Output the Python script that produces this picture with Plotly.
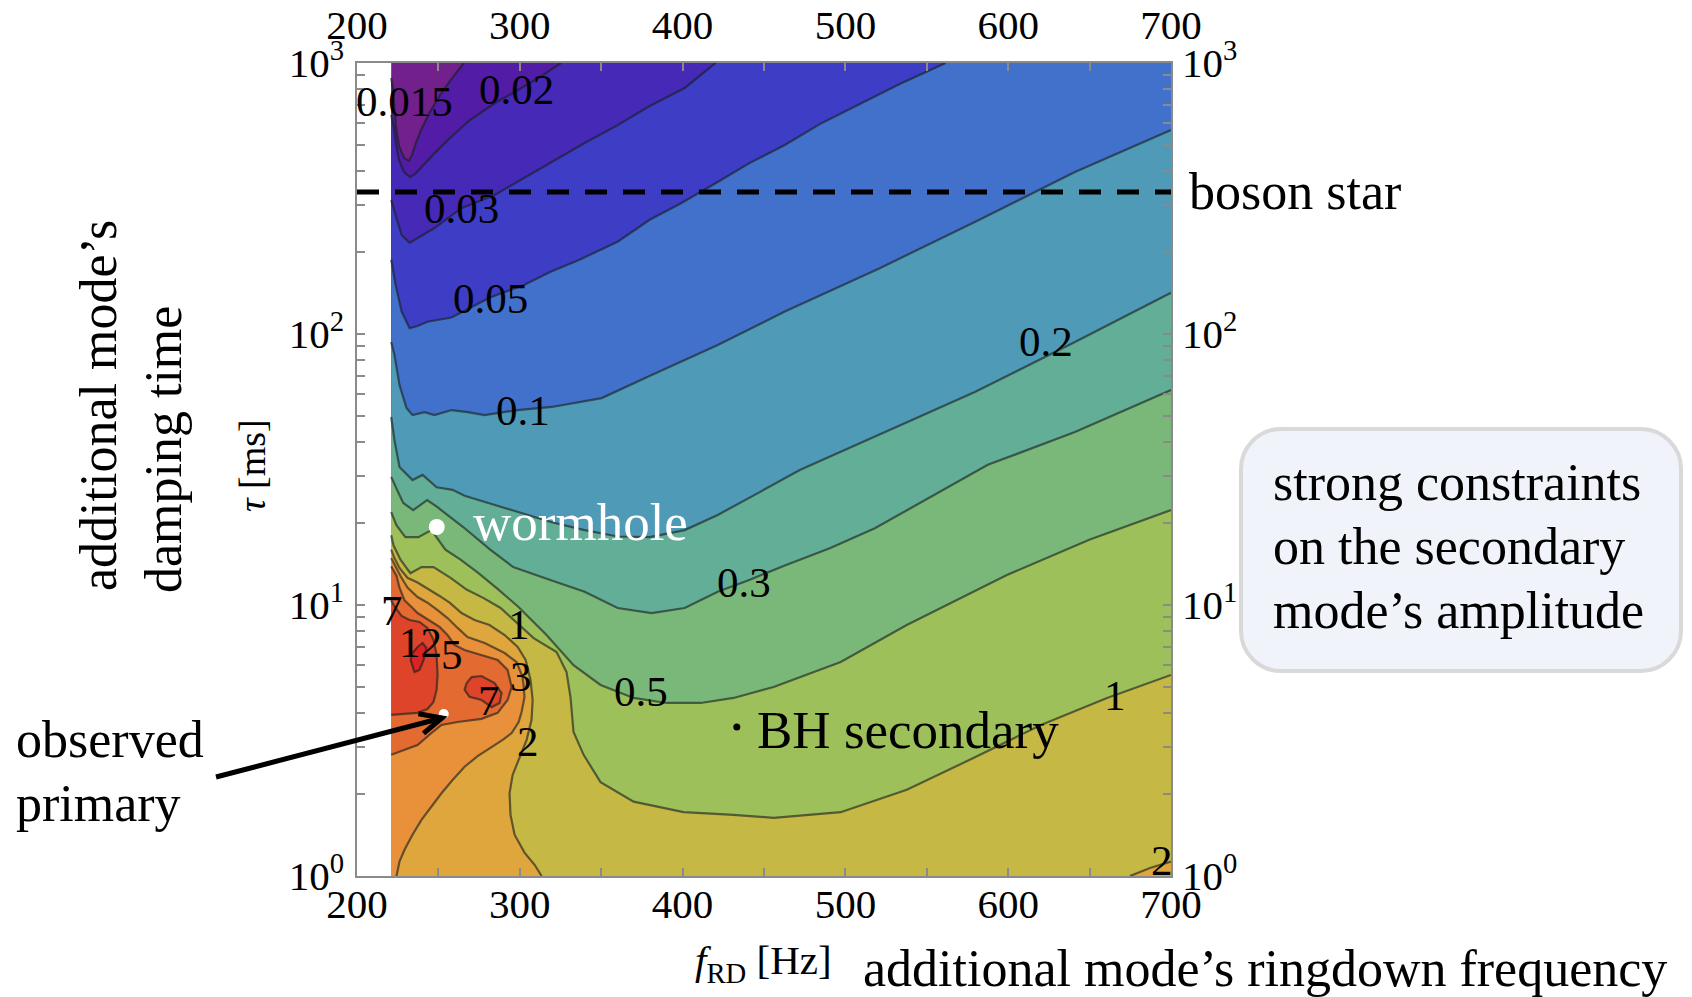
import numpy as np
import plotly.graph_objects as go

# ---------------- scan domain ----------------
F_LO, F_HI = 221.0, 700.0      # ringdown frequency covered by the scan [Hz]
T_LO, T_HI = 1.0, 1000.0       # damping time covered by the scan [ms]

# contour levels of the secondary-mode amplitude bound and band colours
LEVELS = [0.015, 0.02, 0.03, 0.05, 0.1, 0.2, 0.3, 0.5, 1, 2, 3, 5, 7, 12]
BAND_COLORS = ["#71208c", "#531ca6", "#4629b6", "#3d3dc6", "#4271cc",
               "#4f9ab6", "#63ae96", "#7ab879", "#9ec05b", "#c5b845",
               "#dea63c", "#e8903a", "#e36a30", "#de4429", "#dc2222"]

# ---------------- iso-amplitude curves (f [Hz], tau [ms]) ----------------
A0015_F = [265.7, 258.4, 251.0, 244.8, 239.9, 236.2, 233.8, 231.9, 228.9, 225.8, 224.0, 222.7, 222.1, 221]
A0015_T = [1000, 880, 762, 659, 576, 507, 458, 435, 446, 494, 576, 700, 809, 880]

A002_F = [325.3, 312.4, 298.9, 284.8, 269.4, 257.1, 247.9, 240.5, 235.6, 232.6, 228.9, 225.8, 224.0, 222.7, 221]
A002_T = [1000, 888, 795, 712, 616, 529, 466, 417, 389, 380, 396, 439, 498, 576, 643]

A003_F = [420.3, 401.3, 379.8, 360.1, 339.8, 319.6, 299.9, 284.6, 264.3, 247.6, 237.2, 232.3, 227.4, 223.7, 221]
A003_T = [1000, 809, 694, 590, 507, 431, 370, 326, 292, 246, 226, 217, 232, 275, 312]

A005_F = [561.6, 533.4, 508.9, 484.3, 462.8, 441.3, 421.6, 398.2, 379.8, 360.1, 336.7,
          318.3, 302.9, 281.4, 258.1, 243.3, 237.2, 232.3, 227.4, 223.7, 221]
A005_T = [1000, 837, 706, 595, 498, 428, 364, 302, 264, 219, 188,
          169, 152, 136, 115, 111, 107, 105, 121, 152, 188]

A01_F = [700, 641, 579.5, 521.1, 462.8, 421.6, 381, 350.3, 319.6, 298.7, 278.4,
         268, 258.1, 247.6, 241.5, 234.1, 230.4, 226.1, 223, 221]
A01_T = [566, 396, 259, 175, 121, 91.1, 70.6, 58.0, 53.8, 52.4, 50.2,
         51.5, 52.4, 50.2, 51.5, 50.2, 53.3, 64.8, 83.6, 93.4]

A02_F = [700, 641, 579.5, 518.1, 472, 447.4, 421.6, 401.3, 379.8, 360.1, 339.8,
         319.6, 298.7, 278.4, 266.1, 258.7, 248.9, 240.3, 234.1, 226.1, 223, 221]
A02_T = [142, 93.4, 61.1, 41.7, 31.5, 26.1, 21.5, 18.9, 17.8, 17.9, 18.9,
         20.2, 22.0, 24.0, 25.3, 26.6, 27.2, 30.2, 28.9, 32.3, 40.6, 49.4]

A03_F = [700, 641, 587.5, 551.9, 518.1, 490.4, 462.8, 441.3, 421.6, 401.3, 381, 360.1,
         339.8, 318.3, 295.9, 281.8, 265.2, 249.2, 243.1, 234.5, 228.4, 224.1, 221]
A03_T = [62.1, 43.5, 32.9, 25.0, 19.2, 16.2, 14.0, 12.4, 11.2, 9.75, 9.34, 9.75,
         11.2, 12.4, 13.8, 16.0, 19.4, 23.0, 24.4, 22.4, 23.8, 27.0, 29.7]

A05_F = [700, 649.8, 599.2, 537.7, 497.1, 455.9, 431.3, 411.1, 390.2, 369.9, 349.6, 333.0,
         316.4, 299.2, 286.9, 274.6, 263.6, 254.3, 245.7, 237.7, 229.7, 224.2, 221]
A05_T = [22.4, 17.4, 12.9, 8.44, 6.16, 4.98, 4.54, 4.35, 4.35, 4.54, 5.07, 6.00,
         7.75, 9.83, 11.4, 13.1, 14.7, 16.0, 18.9, 17.8, 17.8, 19.7, 22.0]

A1_F = [700, 660.7, 620.1, 578.9, 537.7, 497.1, 455.9, 431.3, 400.6, 369.9, 349.6, 339.2,
        333.0, 331.2, 328.7, 322.6, 308.5, 298.7, 288.2, 277.8, 267.3, 257.5, 247.0,
        239.6, 232.8, 226.7, 222.4, 221]
A1_T = [5.52, 4.54, 3.61, 2.73, 2.08, 1.72, 1.64, 1.68, 1.72, 1.88, 2.22, 2.80,
        3.40, 4.54, 5.66, 6.71, 7.55, 8.51, 9.75, 10.6, 11.4, 12.6, 13.8,
        13.8, 13.1, 14.7, 16.6, 18.1]

A2_F = [313.4, 309.1, 302.9, 296.8, 294.3, 293.7, 295.6, 299.9, 304.2, 307.2, 307.9, 306.6,
        303.6, 298.7, 290.7, 281.4, 272.2, 264.2, 256.9, 250.7, 244.6, 237.2, 231.0,
        226.1, 223.0, 221]
A2_T = [1.00, 1.10, 1.22, 1.42, 1.68, 2.02, 2.36, 2.75, 3.18, 3.76, 4.46, 5.29,
        6.27, 7.00, 7.75, 8.44, 8.80, 9.34, 10.2, 10.8, 11.4, 12.1, 12.6,
        13.7, 14.9, 16.0]

A2R_F = [700, 687.1, 674.8]
A2R_T = [1.13, 1.07, 1.00]

A3_F = [224.3, 226.1, 229.2, 234.1, 239.6, 245.8, 251.9, 258.7, 266.1, 274.1, 282.7, 289.5,
        295.0, 299.3, 301.1, 302.9, 302.3, 301.7, 298.0, 290.7, 278.4, 267.9, 261.8, 255.6,
        249.5, 243.3, 237.2, 231.0, 226.7, 223.7, 221]
A3_T = [1.00, 1.13, 1.25, 1.42, 1.61, 1.81, 2.02, 2.26, 2.53, 2.77, 2.99, 3.18,
        3.37, 3.70, 4.03, 4.58, 5.07, 5.42, 6.16, 6.65, 7.24, 7.62, 8.23, 8.95,
        9.58, 10.2, 10.7, 11.6, 12.8, 13.9, 14.9]

A5_F = [221, 229.2, 237.2, 245.8, 251.9, 261.8, 276.5, 286.4, 292.5, 295.0, 292.5, 286.4,
        276.5, 266.1, 259.9, 255.6, 250.7, 245.8, 241.5, 237.2, 233.5, 229.2, 226.1, 224.3, 221]
A5_T = [2.80, 2.92, 3.04, 3.37, 3.61, 3.70, 3.80, 4.00, 4.46, 4.98, 5.76, 6.27,
        6.54, 6.82, 7.12, 7.75, 8.30, 8.66, 9.03, 9.34, 9.83, 10.4, 11.6, 12.8, 13.9]

A7_F = [221, 229.2, 237.2, 243.3, 247.0, 248.9, 249.5, 248.9, 247.0, 243.3, 238.4, 232.3,
        227.4, 223.7, 221]
A7_T = [3.93, 3.96, 4.00, 4.13, 4.39, 4.86, 5.52, 6.54, 7.43, 8.23, 8.66, 8.80,
        9.11, 9.75, 10.4]

A7B_F = [267.3, 270.4, 276.5, 284.5, 288.8, 287.6, 282.7, 276.5, 269.1, 266.1, 267.3]
A7B_T = [5.15, 5.42, 5.47, 5.15, 4.73, 4.35, 4.20, 4.46, 4.58, 4.86, 5.15]

A12_F = [232.9, 235.3, 238.4, 240.9, 242.7, 240.3, 237.2, 234.1, 232.9]
A12_T = [6.27, 5.66, 5.76, 6.27, 6.94, 7.24, 7.00, 6.65, 6.27]

CURVES = [
    (0.015, A0015_F, A0015_T), (0.02, A002_F, A002_T), (0.03, A003_F, A003_T),
    (0.05, A005_F, A005_T), (0.1, A01_F, A01_T), (0.2, A02_F, A02_T),
    (0.3, A03_F, A03_T), (0.5, A05_F, A05_T), (1, A1_F, A1_T),
    (2, A2_F, A2_T), (2, A2R_F, A2R_T), (3, A3_F, A3_T), (5, A5_F, A5_T),
    (7, A7_F, A7_T), (7, A7B_F, A7B_T), (12, A12_F, A12_T),
]

# contour labels: (text, f [Hz], tau [ms])
CONTOUR_LABELS = [
    ("0.015", 229, 724), ("0.02", 298, 798), ("0.03", 264, 291),
    ("0.05", 282, 135), ("0.1", 302, 52.0), ("0.2", 623, 93.7),
    ("0.3", 438, 12.1), ("0.5", 374.5, 4.79), ("1", 299.5, 8.44),
    ("1", 665.6, 4.63), ("2", 305, 3.13), ("2", 694.3, 1.136),
    ("3", 300.7, 5.44), ("5", 258.2, 6.54), ("7", 221.7, 9.53),
    ("12", 238.7, 7.26), ("7", 281.1, 4.44),
]

# special points
BOSON_STAR_TAU = 334
WORMHOLE = (249, 19.4)
PRIMARY = (253.3, 3.96)
BH_SECONDARY = (433.3, 3.55)

# axis ticks
X_MAJOR = [200, 300, 400, 500, 600, 700]
X_MINOR = [250, 350, 450, 550, 650]
Y_MAJOR = [1, 10, 100, 1000]
Y_MINOR = [m * 10 ** k for k in range(3) for m in range(2, 10)]

# ---------------- helpers ----------------
LT_LO, LT_HI = np.log10(T_LO), np.log10(T_HI)
CORNERS = [(F_LO, T_LO), (F_HI, T_LO), (F_HI, T_HI), (F_LO, T_HI)]


def edge_param(f, t):
    """Position along the scan boundary, counter-clockwise from bottom-left."""
    u = (f - F_LO) / (F_HI - F_LO)
    v = (np.log10(t) - LT_LO) / (LT_HI - LT_LO)
    tol = 1e-3
    if abs(v) < tol:
        return u
    if abs(u - 1) < tol:
        return 1 + v
    if abs(v - 1) < tol:
        return 2 + (1 - u)
    return 3 + (1 - v)


def close_region(fs, ts):
    """Close an open curve along the boundary (high side kept on the left)."""
    s_end = edge_param(fs[-1], ts[-1])
    s_start = edge_param(fs[0], ts[0])
    if s_start <= s_end:
        s_start += 4
    xs, ys = list(fs), list(ts)
    k = int(np.floor(s_end)) + 1
    while k < s_start:
        c = CORNERS[k % 4]
        xs.append(c[0])
        ys.append(c[1])
        k += 1
    xs.append(fs[0])
    ys.append(ts[0])
    return xs, ys


# figure geometry (pixels)
W, H = 1692, 997
ML, MR, MT, MB = 357, 521, 63, 121
PW, PH = W - ML - MR, H - MT - MB


def paper(X, Y):
    return (X - ML) / PW, (H - MB - Y) / PH


SERIF = "Liberation Serif"

fig = go.Figure()

# base band
fig.add_trace(go.Scatter(
    x=[F_LO, F_HI, F_HI, F_LO, F_LO], y=[T_LO, T_LO, T_HI, T_HI, T_LO],
    mode="lines", fill="toself", fillcolor=BAND_COLORS[0], line=dict(width=0),
    hoverinfo="skip", showlegend=False))

# filled super-level regions, lowest level first
for level, fs, ts in sorted(CURVES, key=lambda c: c[0]):
    idx = LEVELS.index(level)
    closed = (fs[0] == fs[-1]) and (ts[0] == ts[-1])
    xs, ys = (fs, ts) if closed else close_region(fs, ts)
    fig.add_trace(go.Scatter(
        x=xs, y=ys, mode="lines", fill="toself", fillcolor=BAND_COLORS[idx + 1],
        line=dict(width=0), hoverinfo="skip", showlegend=False))

# contour lines
for level, fs, ts in CURVES:
    fig.add_trace(go.Scatter(
        x=fs, y=ts, mode="lines", line=dict(color="rgba(25,30,30,0.62)", width=2.2),
        hoverinfo="skip", showlegend=False))

# boson star damping time
fig.add_trace(go.Scatter(
    x=[200, 700], y=[BOSON_STAR_TAU, BOSON_STAR_TAU], mode="lines",
    line=dict(color="black", width=5, dash="22px,16px"),
    hoverinfo="skip", showlegend=False))

# markers
fig.add_trace(go.Scatter(x=[WORMHOLE[0]], y=[WORMHOLE[1]], mode="markers",
                         marker=dict(color="white", size=16, line=dict(width=0)),
                         hoverinfo="skip", showlegend=False))
fig.add_trace(go.Scatter(x=[PRIMARY[0]], y=[PRIMARY[1]], mode="markers",
                         marker=dict(color="white", size=10, line=dict(width=0)),
                         hoverinfo="skip", showlegend=False))
fig.add_trace(go.Scatter(x=[BH_SECONDARY[0]], y=[BH_SECONDARY[1]], mode="markers",
                         marker=dict(color="black", size=7, line=dict(width=0)),
                         hoverinfo="skip", showlegend=False))

# carrier trace for the mirrored axes
fig.add_trace(go.Scatter(x=[300], y=[10], xaxis="x2", yaxis="y2", mode="markers",
                         marker=dict(opacity=0), hoverinfo="skip", showlegend=False))

# ---------------- axes ----------------
tick_font = dict(family=SERIF, size=41, color="black")
xtt = [str(v) for v in X_MAJOR]
ytt = [f"10<sup>{int(round(np.log10(v)))}</sup>" for v in Y_MAJOR]

axis_grey = "#8a8a8a"
minor_x = dict(tickvals=X_MINOR, ticks="inside", ticklen=8, tickwidth=1.5,
               tickcolor=axis_grey, showgrid=False)
minor_y = dict(tickvals=Y_MINOR, ticks="inside", ticklen=8, tickwidth=1.5,
               tickcolor=axis_grey, showgrid=False)
common = dict(showline=True, linecolor=axis_grey, linewidth=1.5, ticks="inside",
              ticklen=8, tickwidth=1.5, tickcolor=axis_grey, showgrid=False,
              zeroline=False, tickfont=tick_font, tickmode="array", automargin=False)

fig.update_layout(
    width=W, height=H, autosize=False,
    margin=dict(l=ML, r=MR, t=MT, b=MB, pad=0),
    paper_bgcolor="white", plot_bgcolor="white",
    hovermode=False, showlegend=False,
    xaxis=dict(range=[200, 700], tickvals=X_MAJOR, ticktext=xtt, side="bottom",
               ticklabelstandoff=-9, minor=minor_x, **common),
    xaxis2=dict(range=[200, 700], tickvals=X_MAJOR, ticktext=xtt, side="top",
                overlaying="x", ticklabelstandoff=6, minor=minor_x, **common),
    yaxis=dict(type="log", range=[0, 3], tickvals=Y_MAJOR, ticktext=ytt,
               ticklabelstandoff=3, minor=minor_y, **common),
    yaxis2=dict(type="log", range=[0, 3], tickvals=Y_MAJOR, ticktext=ytt, side="right",
                overlaying="y", ticklabelstandoff=1, minor=minor_y, **common),
)

# ---------------- annotations ----------------
ann = []
for text, f, t in CONTOUR_LABELS:
    ann.append(dict(x=f, y=np.log10(t), xref="x", yref="y", text=text, showarrow=False,
                    xanchor="center", yanchor="middle",
                    font=dict(family=SERIF, size=43, color="black")))

ann.append(dict(x=270, y=np.log10(20.3), xref="x", yref="y", text="wormhole",
                showarrow=False, xanchor="left", yanchor="middle",
                font=dict(family=SERIF, size=53, color="white")))
ann.append(dict(x=444.5, y=np.log10(3.46), xref="x", yref="y", text="BH secondary",
                showarrow=False, xanchor="left", yanchor="middle",
                font=dict(family=SERIF, size=53, color="black")))

big = dict(family=SERIF, size=52, color="black")


def add_text(text, X, Y, xanchor="center", angle=0, font=big):
    xp, yp = paper(X, Y)
    ann.append(dict(x=xp, y=yp, xref="paper", yref="paper", text=text, showarrow=False,
                    xanchor=xanchor, yanchor="middle", textangle=angle, font=font))


add_text("boson star", 1187, 192, xanchor="left")
add_text("strong constraints", 1271, 482, xanchor="left")
add_text("on the secondary", 1271, 546, xanchor="left")
add_text("mode\u2019s amplitude", 1271, 610, xanchor="left")
add_text("observed", 14, 739, xanchor="left")
add_text("primary", 14, 803, xanchor="left")
add_text("additional mode\u2019s", 99, 406, angle=-90)
add_text("damping time", 163, 450, angle=-90)
add_text("<i>\u03c4</i> [ms]", 252, 466, angle=-90, font=dict(family=SERIF, size=38, color="black"))
add_text("<i>f</i><sub>RD</sub> [Hz]", 763, 963, font=dict(family=SERIF, size=41, color="black"))
add_text("additional mode\u2019s ringdown frequency", 861, 968, xanchor="left")

fig.update_layout(annotations=ann)


# ---------------- shapes: callout box and arrow ----------------
def rounded_rect(X0, Y0, X1, Y1, R):
    k = 0.5523 * R

    def p(X, Y):
        xp, yp = paper(X, Y)
        return f"{xp:.5f},{yp:.5f}"
    return (f"M {p(X0 + R, Y0)} L {p(X1 - R, Y0)} "
            f"C {p(X1 - R + k, Y0)} {p(X1, Y0 + R - k)} {p(X1, Y0 + R)} "
            f"L {p(X1, Y1 - R)} "
            f"C {p(X1, Y1 - R + k)} {p(X1 - R + k, Y1)} {p(X1 - R, Y1)} "
            f"L {p(X0 + R, Y1)} "
            f"C {p(X0 + R - k, Y1)} {p(X0, Y1 - R + k)} {p(X0, Y1 - R)} "
            f"L {p(X0, Y0 + R)} "
            f"C {p(X0, Y0 + R - k)} {p(X0 + R - k, Y0)} {p(X0 + R, Y0)} Z")


shapes = [
    dict(type="path", xref="paper", yref="paper", layer="below",
         path=rounded_rect(1241, 429, 1681, 671, 40),
         fillcolor="#f0f3f9", line=dict(color="#d9d9d9", width=4)),
]

tail = paper(216, 777)
tip = paper(442, 718)
arm1 = paper(418.4, 713.7)
arm2 = paper(423.5, 733.3)
shapes.append(dict(type="line", xref="paper", yref="paper",
                   x0=tail[0], y0=tail[1], x1=tip[0], y1=tip[1],
                   line=dict(color="black", width=5)))
shapes.append(dict(type="path", xref="paper", yref="paper",
                   path=f"M {arm1[0]:.5f},{arm1[1]:.5f} L {tip[0]:.5f},{tip[1]:.5f} L {arm2[0]:.5f},{arm2[1]:.5f}",
                   line=dict(color="black", width=5)))

fig.update_layout(shapes=shapes)

fig.write_html("out.html")
